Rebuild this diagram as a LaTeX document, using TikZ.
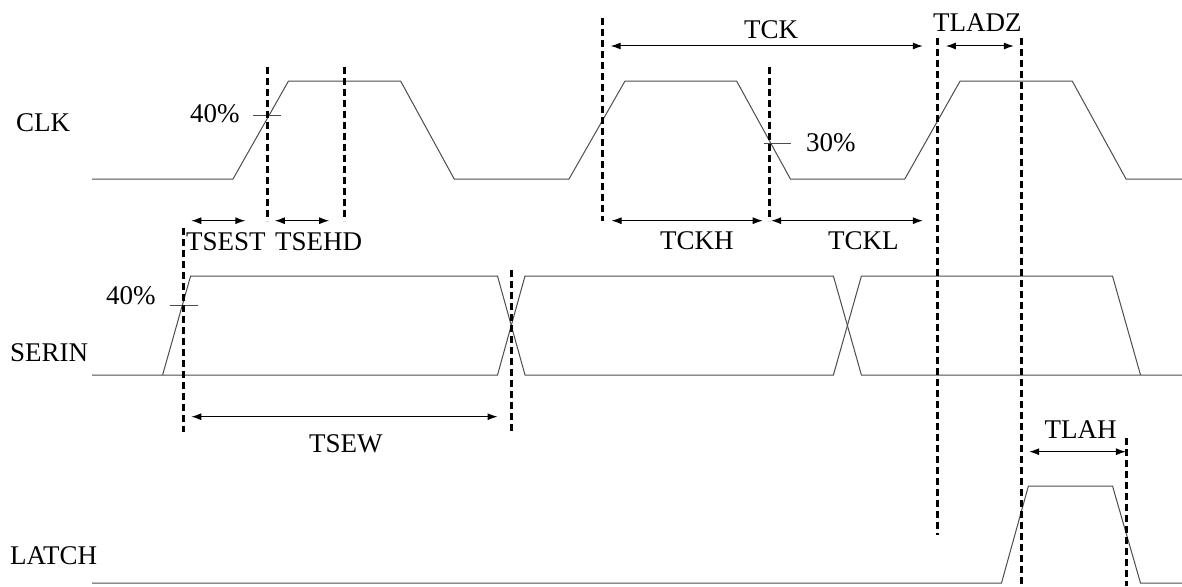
\documentclass[tikz,border=0pt]{standalone}
\usepackage{fontspec}
\setmainfont{Liberation Serif}
\usetikzlibrary{arrows.meta}

\tikzset{
  wave/.style={draw=black!70,line width=1pt},
  guide/.style={draw=black,line width=3pt,dash pattern=on 7pt off 4pt},
  dim/.style={<->,draw=black,line width=1pt,>={Latex[length=10pt,width=7pt]}},
  lbl/.style={inner sep=0pt,anchor=base west,font=\fontsize{27pt}{32pt}\selectfont}
}

\begin{document}
\begin{tikzpicture}[x=1pt,y=-1pt]
\useasboundingbox (0,0) rectangle (1182,586);

% signal names
\node[lbl] (clk) at (16,131) {CLK};
\node[lbl] (serin) at (10,361) {SERIN};
\node[lbl] (latch) at (10,564) {LATCH};

% waveforms
\draw[wave] (92,179)--(233,179)--(288.5,81)--(400.6,81)--(454.2,179)--(569,179)--(625,81)--(736.6,81)--(790.4,179)--(904.8,179)--(960.1,81)--(1072.2,81)--(1126,179)--(1182,179);
\draw[wave] (92,375)--(497.5,375)--(525,276)--(833.4,276)--(861.4,375)--(1182,375);
\draw[wave] (162.6,375)--(190.6,276)--(497.5,276)--(525,375)--(833.4,375)--(861.4,276)--(1112.5,276)--(1140.5,375);
\draw[wave] (92,583)--(1001.5,583)--(1028.4,486)--(1112.5,486)--(1140.5,583)--(1182,583);

% level marks
\draw[wave] (253.3,115.7)--(281.3,115.7) (169.5,305)--(197.8,305) (763.5,143.3)--(791.2,143.3);
\node[lbl] (clkpct) at (190,122) {40\%};
\node[lbl] (serpct) at (106,304) {40\%};
\node[lbl] (fallpct) at (806,151) {30\%};

% reference lines
\draw[guide] (267.1,66.7)--(267.1,220.7) (344,66.7)--(344,220.7);
\draw[guide] (183.7,228)--(183.7,431.7) (511.6,270)--(511.6,431.7);
\draw[guide] (602.3,18.3)--(602.3,220.7) (769.7,66.7)--(769.7,220.7);
\draw[guide] (937.8,38.3)--(937.8,535) (1021.5,38.3)--(1021.5,586);
\draw[guide] (1126.7,438)--(1126.7,586);

% timing intervals
\draw[dim] (191.3,220.7)--(245.3,220.7);
\draw[dim] (274.8,220.7)--(329.1,220.7);
\node[lbl] (tsest) at (186,250) {TSEST};
\node[lbl] (tsehd) at (275,250) {TSEHD};
\draw[dim] (191.3,416.7)--(497.5,416.7);
\node[lbl] (tsew) at (309,452) {TSEW};
\draw[dim] (610.7,46)--(922.8,46);
\node[lbl] (tck) at (744,39) {TCK};
\draw[dim] (945.9,46)--(1013.8,46);
\node[lbl] (tladz) at (933,32) {TLADZ};
\draw[dim] (611.5,220.7)--(762.7,220.7);
\node[lbl] (tckh) at (660,249) {TCKH};
\draw[dim] (771.2,220.7)--(922.8,220.7);
\node[lbl] (tckl) at (828,249) {TCKL};
\draw[dim] (1029.2,451.7)--(1125.9,451.7);
\node[lbl] (tlah) at (1044.5,438) {TLAH};
\end{tikzpicture}
\end{document}
